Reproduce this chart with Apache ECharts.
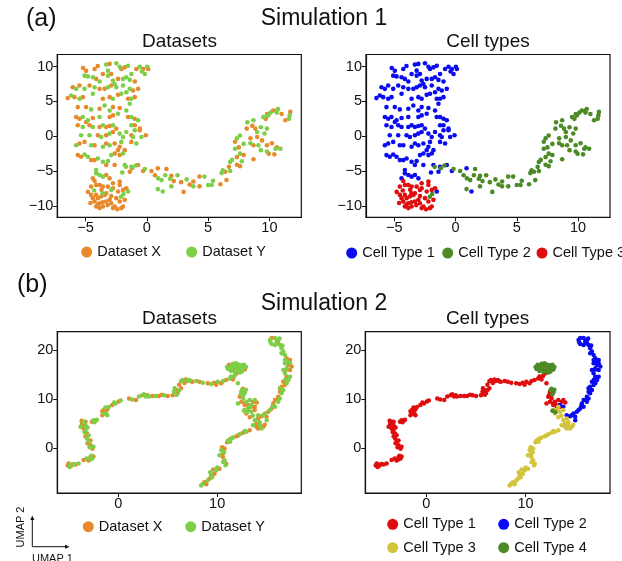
<!DOCTYPE html>
<html>
<head>
<meta charset="utf-8">
<script src="https://cdn.jsdelivr.net/npm/echarts@6/dist/echarts.min.js"></script>
<style>html,body{margin:0;padding:0;background:#fff;}#chart{width:622px;height:561px;}</style>
</head>
<body>
<div id="chart"></div>
<script>
// ---------- DATA ----------
// Simulation 1 : points grouped by dataset (X / Y) and cell type (1..3)
const s1_t1_X = [[-5.2,9.8],[-4.95,9.4],[-4.26,9.67],[-4.0,10.1],[-3.03,10.4],[-2.08,9.67],[-1.8,9.9],[-0.3,9.67],[0.11,9.67],[-0.85,9.67],
 [-3.58,8.95],[-2.9,8.95],[-2.35,8.24],[-0.98,7.86],[-4.13,8.24],
 [-6.04,7.05],[-5.49,7.29],[-4.67,7.29],[-3.85,6.81],[-3.44,6.81],[-2.9,7.29],[-1.12,6.57],[-0.71,6.81],
 [-6.45,5.48],[-5.9,5.62],[-5.22,5.62],[-3.58,5.38],[-3.03,5.62],[-2.35,5.95],[-1.53,5.38],[-0.98,5.62],
 [-5.63,4.19],[-4.95,4.19],[-3.85,3.95],[-2.76,4.19],[-2.21,4.05],
 [-5.76,2.76],[-5.49,2.52],[-4.4,2.62],[-3.03,2.76],[-2.76,3.0],[-1.53,2.76],[-0.98,2.52],
 [-5.63,1.57],[-4.95,2.05],[-4.67,1.57],[-3.85,1.33],[-3.31,1.33],[-3.03,1.48],[-2.49,1.1],[-0.98,1.57],[-0.57,1.1],
 [-3.99,0.14],[-3.31,0.14],[-2.76,0.62],[-1.26,0.14],[-0.08,0.14],[-0.57,0.86],
 [-5.49,-1.05],[-5.08,-0.81],[-4.26,-1.29],[-3.31,-1.05],[-2.62,-1.05],[-2.21,-1.52],[-2.35,-2.0],[-1.26,-0.81],[-1.8,-2.0],
 [-5.63,-2.71],[-5.36,-2.95],[-4.54,-3.43],[-4.26,-3.43],[-2.62,-2.48],[-2.21,-2.71],
 [-3.31,-4.14],[-2.62,-4.14],[-1.39,-5.1],[-0.71,-4.14],[-0.3,-5.0],
 [-3.31,-5.57],[-3.03,-6.05],[-4.4,-6.05],[0.9,-4.6]];
const s1_t1_Y = [[-3.31,10.3],[-3.17,9.43],[-2.49,10.5],[-2.21,10.0],[-1.53,10.14],[-0.57,10.0],[0.03,10.0],[-0.16,8.95],[-0.4,9.3],
 [-5.08,8.71],[-4.81,8.6],[-4.4,8.48],[-3.17,8.71],[-2.76,8.0],[-1.94,8.24],[-1.67,8.48],[-1.39,8.1],[-3.85,7.86],[-1.26,8.95],
 [-5.76,6.81],[-5.08,6.81],[-4.26,7.05],[-3.17,7.05],[-2.62,7.52],[-2.49,7.05],[-1.94,7.29],[-1.39,6.81],
 [-6.17,5.86],[-5.49,5.38],[-4.4,6.1],[-2.76,5.38],[-1.26,5.38],[-1.67,6.33],[-2.08,6.1],
 [-4.54,3.86],[-3.44,4.43],[-3.03,3.71],[-1.67,3.71],[-1.39,4.67],
 [-5.22,2.76],[-4.81,2.29],[-3.85,2.76],[-2.35,3.24],[-1.26,2.76],[-0.71,2.29],
 [-5.22,1.33],[-4.4,1.33],[-3.58,1.57],[-2.76,1.57],[-1.26,1.57],[-0.98,0.86],
 [-5.36,0.14],[-4.67,0.14],[-3.72,-0.1],[-3.03,0.38],[-2.21,0.38],[-1.67,0.62],[-1.94,-0.1],[-1.12,-0.1],[-0.44,-0.1],
 [-5.76,-1.29],[-4.54,-1.29],[-3.58,-1.52],[-3.03,-1.29],[-2.08,-0.81],[-0.85,-1.05],
 [-5.08,-2.62],[-4.81,-2.95],[-3.99,-3.19],[-3.58,-3.67],[-3.17,-3.57],[-2.9,-2.71],[-1.94,-2.48],
 [-4.13,-4.86],[-4.13,-5.33],[-3.85,-5.57],[-3.58,-5.81],[-1.8,-4.14],[-1.26,-4.38],[-1.53,-7.95],[1.3,-7.95],[-2.0,-5.2]];
const s1_t2_X = [[-1.2,-4.6],[0.38,-5.0],[0.66,-5.6],[1.6,-4.7],[2.0,-5.7],[2.2,-6.45],[3.0,-8.0],[2.8,-6.6],[3.8,-6.5],[3.5,-6.95],
 [4.3,-5.8],[4.3,-7.2],[6.0,-6.9],[6.4,-5.1],[6.5,-6.3],[6.7,-4.4],[7.35,-4.1],[7.6,-4.3],[7.35,-3.0],[7.9,-2.7],[7.5,-1.6],[7.2,-0.8],
 [8.15,1.1],[8.6,1.5],[8.85,1.1],[8.45,-0.3],[9.0,-0.1],[8.7,-1.3],[9.4,-0.6],[9.8,3.2],[10.3,3.7],[10.6,3.7],[11.0,3.2],[11.3,2.3],
 [11.7,3.5],[9.7,2.5],[9.8,-1.3],[10.2,-1.0],[10.6,-1.6],[9.95,-2.5],[10.4,-2.6],[8.7,-3.3]];
const s1_t2_Y = [[-1.7,-4.4],[-0.9,-4.2],[-2.1,-8.7],[-1.9,-8.3],[-0.16,-4.7],[0.93,-6.05],[1.5,-5.6],[1.9,-6.1],[1.2,-6.3],[2.5,-5.6],
 [2.0,-7.2],[0.9,-7.6],[3.25,-6.2],[3.8,-7.2],[4.7,-5.8],[5.0,-7.0],[5.3,-7.0],[5.4,-6.4],[6.1,-5.3],[6.2,-4.9],[6.8,-3.7],[6.95,-3.4],
 [7.75,-3.6],[7.6,-2.5],[7.2,-1.8],[7.35,-0.3],[7.6,0.1],[7.9,-1.1],[8.2,2.0],[8.7,2.3],[9.3,1.3],[9.0,0.6],[8.45,-1.0],[9.1,-1.3],
 [9.6,0.4],[9.8,1.1],[9.5,2.75],[10.1,3.4],[10.7,3.9],[11.6,2.5],[11.65,3.0],[10.6,3.4],[9.9,3.0],[10.5,-1.8],[10.9,-1.8],[9.8,-2.2],
 [9.3,-2.0],[6.8,-5.0]];
const s1_t3_X = [[-4.26,-6.43],[-2.76,-6.76],[-2.21,-6.52],
 [-4.54,-7.24],[-4.13,-7.0],[-3.85,-7.0],[-3.58,-7.24],[-3.17,-7.24],[-2.21,-7.0],[-1.94,-7.71],[-2.76,-7.48],[-1.67,-7.48],[-2.35,-7.95],
 [-4.54,-8.43],[-4.4,-8.9],[-4.26,-9.38],[-4.13,-8.43],[-3.99,-8.9],[-3.85,-9.62],[-3.72,-8.67],[-3.58,-10.1],[-3.44,-8.43],[-3.31,-9.38],
 [-3.03,-9.14],[-2.9,-9.62],[-2.62,-10.1],[-2.49,-8.9],[-2.21,-9.38],[-2.08,-10.33],[-1.94,-10.1],[-1.8,-9.14],[-4.13,-10.1],[-3.85,-10.33],
 [-3.31,-8.19],[-2.76,-10.33],[-4.8,-8.0],[-4.6,-9.6],[-3.2,-9.9],[-2.4,-10.5],[-4.0,-9.8],[-3.6,-9.5],[-2.9,-8.6],[-3.7,-7.7]];
const s1_t3_Y = [[-2.9,-7.71],[-3.6,-8.2],[-4.3,-7.8]];

// Simulation 2 : points grouped by dataset (X / Y) and cell type (1..4)
const s2_t1_X = [[-5.0,-3.1],[-4.7,-3.5],[-4.3,-3.3],[-5.1,-3.5],
 [-3.5,-2.4],[-2.8,-1.8],[-2.5,-1.7],[-3.0,-2.5],
 [-2.6,-0.1],[-2.8,0.6],[-2.8,1.6],[-3.3,2.45],[-3.15,3.0],[-3.5,4.0],[-3.65,4.7],[-3.65,5.0],[-3.3,5.4],[-3.1,1.0],[-3.7,5.6],
 [-2.65,5.4],[-2.3,5.6],
 [-1.6,6.7],[-1.3,7.4],[-1.45,7.8],[-1.1,7.9],[-1.6,7.5],
 [-0.6,8.8],[0.05,9.5],
 [1.1,10.1],[1.8,9.8],[2.45,10.8],[2.95,10.8],[3.45,10.6],[4.1,10.6],[5.0,10.6],[4.4,10.9],
 [5.5,10.8],[5.85,11.85],[6.0,11.2],[6.35,12.2],
 [6.15,12.9],[6.7,13.25],[7.35,13.6],
 [6.85,14.0],[7.5,13.5],[8.2,13.5],[9.05,13.2],[9.7,13.3],[10.4,13.2],[10.9,13.9],[11.6,14.0],[11.94,15.2],[9.9,12.9],[12.2,15.5],
 [12.45,11.5],[12.28,10.48],[12.45,9.46],[12.78,9.12],[13.12,8.78],[13.63,9.46],[13.46,8.44],[12.78,8.78],[14.0,9.3]];
const s2_t1_Y = [[-4.9,-3.8],[-4.5,-3.2],[-4.0,-3.1],[-4.8,-3.3],
 [-3.2,-2.1],[-2.6,-2.1],[-2.8,-2.3],[-2.7,-1.5],
 [-2.5,0.3],[-3.0,1.3],[-3.15,2.0],[-3.0,2.65],[-3.3,3.7],[-3.3,4.7],[-3.5,5.4],[-3.8,4.35],[-2.9,0.2],[-3.4,3.3],[-3.1,4.2],
 [-2.5,5.7],[-2.15,5.8],[-2.4,5.3],
 [-1.45,7.1],[-1.1,6.7],[-1.3,8.3],[-0.95,8.4],[-1.2,7.0],
 [-0.25,9.1],[0.25,9.7],[-0.4,9.3],
 [1.4,9.9],[2.1,10.5],[2.8,10.5],[3.1,10.5],[3.8,10.6],[4.65,10.8],[2.6,11.0],
 [5.65,11.5],[5.7,12.2],[6.15,11.8],[5.9,10.9],
 [6.35,13.6],[7.0,13.7],
 [6.5,13.9],[7.2,13.9],[7.9,13.7],[8.55,13.3],[9.4,13.05],[10.07,13.5],[10.6,13.7],[11.26,14.2],[11.75,14.7],[12.1,13.2],[11.4,14.6],
 [12.61,10.82],[12.61,10.13],[12.1,9.12],[12.95,9.46],[13.29,9.8],[13.8,9.8],[13.12,8.1],[12.4,11.0]];
const s2_t2_X = [[15.5,22.4],[16.17,21.35],[17.02,18.3],[17.36,17.96],[17.2,16.94],[17.36,15.9],[17.02,14.56],[16.68,13.54],[16.5,12.5],
 [16.34,11.5],[16.17,10.48],[16.0,9.8],[15.67,9.12],[15.5,8.1],[15.16,7.41],[14.99,6.39],[14.48,6.5],[13.8,8.44],[17.53,16.6],[16.85,12.85],
 [15.84,9.8],[17.0,16.0]];
const s2_t2_Y = [[15.33,22.0],[15.84,22.4],[16.17,22.0],[15.84,21.0],[15.5,21.2],[15.4,21.5],[16.0,21.7],[16.34,21.0],[16.3,22.3],[16.5,20.35],
 [16.68,19.67],[16.85,18.98],[17.2,17.6],[16.85,17.28],[17.02,16.26],[16.85,15.24],[17.2,13.88],[17.02,13.2],[16.68,11.84],[16.5,11.16],
 [16.34,10.13],[16.17,9.46],[15.84,8.44],[15.33,7.76],[14.82,7.07],[14.65,6.73],[14.14,6.73],[13.46,8.78],[16.5,19.3],[16.85,17.96],
 [17.36,17.28],[16.68,15.9],[17.36,14.56],[16.34,12.18],[15.6,8.6],[15.0,5.7],[16.6,20.9],[16.9,14.0]];
const s2_t3_X = [[14.14,6.05],[13.97,5.03],[13.97,4.35],[14.65,4.35],[14.14,4.01],[14.8,4.8],
 [13.12,7.76],[12.95,7.07],[13.8,7.76],[13.3,6.3],
 [13.29,3.67],[12.61,3.13],[11.94,2.45],[11.26,1.77],[12.1,2.6],[11.0,1.2],
 [10.75,-0.07],[10.58,-1.09],[10.58,-1.77],[10.92,-3.13],[10.5,0.2],
 [10.24,-4.15],[9.73,-5.17],[9.22,-6.2],[8.72,-6.9],[9.6,-4.3],[8.9,-7.3]];
const s2_t3_Y = [[13.8,5.71],[13.63,4.69],[14.31,4.69],[14.48,4.01],[14.3,5.3],
 [12.78,7.76],[13.29,8.44],[13.46,7.41],[13.6,6.6],
 [12.95,3.33],[12.28,2.85],[11.6,2.17],[11.09,1.5],[11.43,1.97],[12.8,3.5],[11.3,1.3],
 [10.41,-0.41],[10.24,-1.43],[10.75,-2.45],[10.85,-3.47],[10.7,-0.8],[10.6,-2.8],
 [9.9,-4.49],[9.4,-5.5],[9.05,-6.54],[8.55,-7.22],[8.38,-7.56],[9.5,-5.9],[10.0,-3.9],[9.3,-4.9]];
const s2_t4_X = [[11.7,16.0],[12.4,16.7],[12.8,16.0],[12.6,12.1],[11.2,17.0]];
const s2_t4_Y = [[11.0,16.5],[11.3,16.2],[11.5,16.8],[11.6,17.2],[11.8,16.6],[11.9,17.3],[12.0,15.8],[12.1,16.4],[12.2,17.0],[12.3,16.1],
 [12.5,15.6],[12.6,16.3],[12.7,17.0],[11.4,15.7],[11.1,16.1],[12.0,17.1],[12.5,16.9],[11.8,15.5],[12.9,16.5],[11.6,16.4],[12.3,15.4],
 [12.5,11.8],[12.8,11.4],[12.9,11.9],[12.7,11.0],[12.7,7.6],[13.0,7.3]];

// Tick labels
const s1XTicks = [-5, 0, 5, 10];
const s1YTicks = [-10, -5, 0, 5, 10];
const s2XTicks = [0, 10];
const s2YTicks = [0, 10, 20];

// Names
const datasetNames = ['Dataset X', 'Dataset Y'];
const cellTypeNames = ['Cell Type 1', 'Cell Type 2', 'Cell Type 3', 'Cell Type 4'];

// ---------- STYLE / LAYOUT ----------
const FONT = '"Liberation Sans", Arial, Helvetica, sans-serif';
const INK = '#111111';
const C = {
  dsX: '#E8892B', dsY: '#7DCF48',
  blue: '#0B0BF2', dgreen: '#4C8A25', red: '#DF0D0D', yellow: '#D2C53C'
};
const s1Colors = [C.blue, C.dgreen, C.red];
const s2Colors = [C.red, C.blue, C.yellow, C.dgreen];

const grids = [
  { left: 57.3, top: 54.5, width: 244, height: 162.8 },
  { left: 366, top: 54.5, width: 244, height: 162.8 },
  { left: 57.3, top: 331.7, width: 244, height: 161.3 },
  { left: 365.3, top: 331.7, width: 244.7, height: 161.3 }
];
const s1Range = { x: [-7.3, 12.6], y: [-11.65, 11.75] };
const s2Range = { x: [-6.15, 18.5], y: [-9.1, 23.7] };

function fmt(v) { return String(v).replace('-', '\u2212'); }

function axis(gi, range, ticks, margin) {
  return {
    type: 'value', gridIndex: gi, min: range[0], max: range[1],
    axisLine: { show: true, onZero: false, lineStyle: { color: INK, width: 1.2 } },
    axisTick: { show: true, length: 4, customValues: ticks, lineStyle: { color: INK, width: 1 } },
    axisLabel: { customValues: ticks, formatter: fmt, margin: margin, fontSize: 14.5, color: INK, fontFamily: FONT },
    splitLine: { show: false }
  };
}

function sc(name, gi, data, color, size) {
  return {
    type: 'scatter', name: name, xAxisIndex: gi, yAxisIndex: gi, data: data,
    symbol: 'circle', symbolSize: size, silent: true,
    itemStyle: { color: color, opacity: 1 }
  };
}

const series = [
  // Sim 1 - datasets
  sc(datasetNames[0], 0, [].concat(s1_t1_X, s1_t2_X, s1_t3_X), C.dsX, 4.6),
  sc(datasetNames[1], 0, [].concat(s1_t1_Y, s1_t2_Y, s1_t3_Y), C.dsY, 4.6),
  // Sim 1 - cell types
  sc(cellTypeNames[0], 1, [].concat(s1_t1_X, s1_t1_Y), s1Colors[0], 4.6),
  sc(cellTypeNames[1], 1, [].concat(s1_t2_X, s1_t2_Y), s1Colors[1], 4.6),
  sc(cellTypeNames[2], 1, [].concat(s1_t3_X, s1_t3_Y), s1Colors[2], 4.6),
  // Sim 2 - datasets
  sc(datasetNames[0], 2, [].concat(s2_t1_X, s2_t2_X, s2_t3_X, s2_t4_X), C.dsX, 4.5),
  sc(datasetNames[1], 2, [].concat(s2_t1_Y, s2_t2_Y, s2_t3_Y, s2_t4_Y), C.dsY, 4.5),
  // Sim 2 - cell types
  sc(cellTypeNames[0], 3, [].concat(s2_t1_X, s2_t1_Y), s2Colors[0], 4.5),
  sc(cellTypeNames[1], 3, [].concat(s2_t2_X, s2_t2_Y), s2Colors[1], 4.5),
  sc(cellTypeNames[2], 3, [].concat(s2_t3_X, s2_t3_Y), s2Colors[2], 4.5),
  sc(cellTypeNames[3], 3, [].concat(s2_t4_X, s2_t4_Y), s2Colors[3], 4.5)
];

// legend items: [name, color, circle-centre x, circle-centre y]
const legendItems = [
  [datasetNames[0], C.dsX, 86.7, 252], [datasetNames[1], C.dsY, 191.7, 252],
  [cellTypeNames[0], s1Colors[0], 351.7, 253], [cellTypeNames[1], s1Colors[1], 447.7, 253], [cellTypeNames[2], s1Colors[2], 542, 253],
  [datasetNames[0], C.dsX, 88.3, 526.7], [datasetNames[1], C.dsY, 190.7, 526.7],
  [cellTypeNames[0], s2Colors[0], 392.7, 524.3], [cellTypeNames[1], s2Colors[1], 503.7, 524.3],
  [cellTypeNames[2], s2Colors[2], 392.7, 547.7], [cellTypeNames[3], s2Colors[3], 503.7, 547.7]
];
const legends = legendItems.map(function (it) {
  return {
    show: true, orient: 'horizontal', padding: 0, left: it[2] - 5.5, top: it[3] - 7.5,
    itemWidth: 11, itemHeight: 11, icon: 'circle', selectedMode: false,
    data: [{ name: it[0], icon: 'circle', itemStyle: { color: it[1] } }],
    textStyle: { fontSize: 14.5, color: INK, fontFamily: FONT, lineHeight: 15 }
  };
});

function txt(s, x, y, size, align) {
  return { type: 'text', x: x, y: y, silent: true,
    style: { text: s, fill: INK, font: size + 'px ' + FONT, textAlign: align || 'center', textVerticalAlign: 'middle' } };
}

const graphics = [
  txt('(a)', 26, 19.5, 25, 'left'),
  txt('Simulation 1', 324, 19, 23),
  txt('Datasets', 179.4, 41.8, 19),
  txt('Cell types', 488, 41.8, 19),
  txt('(b)', 17, 285, 25, 'left'),
  txt('Simulation 2', 324, 304, 23),
  txt('Datasets', 179.4, 318.6, 19),
  txt('Cell types', 487.6, 318.6, 19),
  // UMAP axes indicator
  { type: 'line', silent: true, shape: { x1: 32.3, y1: 546.7, x2: 32.3, y2: 519 }, style: { stroke: INK, lineWidth: 1 } },
  { type: 'polygon', silent: true, shape: { points: [[30.3, 520], [34.3, 520], [32.3, 515.5]] }, style: { fill: INK } },
  { type: 'line', silent: true, shape: { x1: 32.3, y1: 546.7, x2: 66, y2: 546.7 }, style: { stroke: INK, lineWidth: 1 } },
  { type: 'polygon', silent: true, shape: { points: [[65, 544.7], [65, 548.7], [69.5, 546.7]] }, style: { fill: INK } },
  { type: 'text', x: 20.5, y: 527, rotation: Math.PI / 2, silent: true,
    style: { text: 'UMAP 2', fill: INK, font: '11px ' + FONT, textAlign: 'center', textVerticalAlign: 'middle' } },
  { type: 'text', x: 32, y: 558.8, silent: true,
    style: { text: 'UMAP 1', fill: INK, font: '11px ' + FONT, textAlign: 'left', textVerticalAlign: 'middle' } }
];

const chart = echarts.init(document.getElementById('chart'), null, { renderer: 'canvas' });
chart.setOption({
  backgroundColor: '#ffffff',
  animation: false,
  grid: grids.map(function (g) { return Object.assign({ show: true, borderColor: INK, borderWidth: 1.2, backgroundColor: 'transparent', containLabel: false }, g); }),
  xAxis: [axis(0, s1Range.x, s1XTicks, 3), axis(1, s1Range.x, s1XTicks, 3), axis(2, s2Range.x, s2XTicks, 3), axis(3, s2Range.x, s2XTicks, 3)],
  yAxis: [axis(0, s1Range.y, s1YTicks, 4), axis(1, s1Range.y, s1YTicks, 4), axis(2, s2Range.y, s2YTicks, 4), axis(3, s2Range.y, s2YTicks, 4)],
  legend: legends,
  series: series,
  graphic: graphics
});
</script>
</body>
</html>
